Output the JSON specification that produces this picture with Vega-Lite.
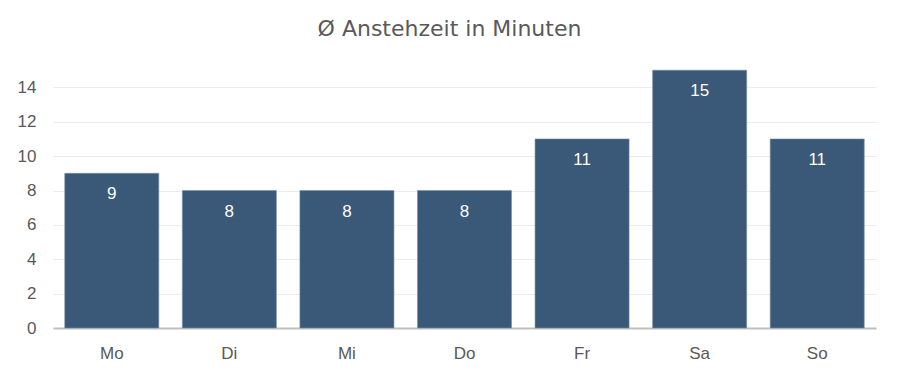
{
  "$schema": "https://vega.github.io/schema/vega-lite/v6.json",
  "autosize": {"type": "none"},
  "padding": {"left": 53, "top": 53, "right": 24, "bottom": 49},
  "width": 823,
  "height": 275,
  "title": {
    "text": "Ø Anstehzeit in Minuten",
    "font": "DejaVu Sans",
    "fontSize": 22,
    "fontWeight": "normal",
    "color": "#595959",
    "anchor": "middle",
    "dx": -15,
    "offset": 12
  },
  "data": {
    "values": [
      {"Tag": "Mo", "Minuten": 9},
      {"Tag": "Di", "Minuten": 8},
      {"Tag": "Mi", "Minuten": 8},
      {"Tag": "Do", "Minuten": 8},
      {"Tag": "Fr", "Minuten": 11},
      {"Tag": "Sa", "Minuten": 15},
      {"Tag": "So", "Minuten": 11}
    ]
  },
  "encoding": {
    "x": {
      "field": "Tag",
      "type": "nominal",
      "sort": null,
      "scale": {"paddingInner": 0.2, "paddingOuter": 0.1},
      "axis": {
        "title": null,
        "labelAngle": 0,
        "labelFont": "Liberation Sans",
        "labelFontSize": 17,
        "labelColor": "#595959",
        "labelPadding": 17,
        "ticks": false,
        "domainColor": "#bfbfbf",
        "domainWidth": 2,
        "grid": false
      }
    },
    "y": {
      "field": "Minuten",
      "type": "quantitative",
      "scale": {"domain": [0, 16], "nice": false},
      "axis": {
        "title": null,
        "values": [0, 2, 4, 6, 8, 10, 12, 14],
        "labelFont": "Liberation Sans",
        "labelFontSize": 17,
        "labelColor": "#595959",
        "labelPadding": 17,
        "ticks": false,
        "domain": false,
        "gridColor": "#ebebeb",
        "gridWidth": 1
      }
    }
  },
  "layer": [
    {"mark": {"type": "bar", "color": "#3a5878", "stroke": "#7890a8", "strokeWidth": 0.6}},
    {
      "mark": {
        "type": "text",
        "color": "#ffffff",
        "font": "Liberation Sans",
        "fontSize": 17,
        "baseline": "middle",
        "dy": 21
      },
      "encoding": {"text": {"field": "Minuten", "type": "quantitative"}}
    }
  ],
  "config": {"view": {"stroke": null}, "background": "#ffffff"}
}
